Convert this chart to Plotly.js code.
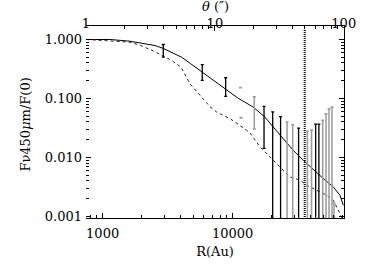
<!DOCTYPE html>
<html>
<head>
<meta charset="utf-8">
<script src="https://cdn.plot.ly/plotly-3.0.1.min.js"></script>
<style>html,body{margin:0;padding:0;background:#fff;}#chart{width:370px;height:273px;}</style>
</head>
<body>
<div id="chart"></div>
<script>
// Solid model profile
const solidR = [753, 1138, 1622, 1936, 2523, 2911, 4052, 4735, 5834, 7281, 8830, 10920, 14390, 17700, 20510, 24490, 29240, 34920, 41700, 49800, 59400, 66900, 70900];
const solidF = [1.0, 1.0, 0.935, 0.865, 0.79, 0.71, 0.50, 0.39, 0.28, 0.194, 0.14, 0.102, 0.0712, 0.0482, 0.0327, 0.0208, 0.0131, 0.0089, 0.0062, 0.00436, 0.00314, 0.00227, 0.00153];
// Dashed model profile
const dashR = [753, 1138, 1622, 1936, 2449, 3397, 4000, 4695, 5780, 6696, 7540, 9540, 12010, 13590, 16220, 19350, 23090, 27570, 32940, 37090, 44290, 52870, 59400, 63060, 68900, 71800];
const dashF = [1.0, 0.96, 0.90, 0.80, 0.64, 0.44, 0.34, 0.177, 0.105, 0.072, 0.0586, 0.0453, 0.032, 0.026, 0.0150, 0.0101, 0.00685, 0.00464, 0.0041, 0.00335, 0.00276, 0.00227, 0.00187, 0.00144, 0.00097, 0.0008];
// Black data points (error bars); lo = 0 means consistent with zero
const blackR = [2926, 5834, 8830, 17420, 20310, 23350, 32130, 43450, 46010];
const blackF = [0.66, 0.28, 0.15, 0.035, 0.022, 0.019, 0.012, 0.014, 0.014];
const blackHi = [0.822, 0.373, 0.224, 0.0732, 0.059, 0.049, 0.0313, 0.0367, 0.0367];
const blackLo = [0.501, 0.202, 0.108, 0.0142, 0, 0, 0, 0, 0];
// Gray data points (error bars)
const grayR = [11480, 11590, 14660, 26190, 28940, 37500, 40390, 49220, 52200, 55060, 58040, 60130];
const grayF = [0.152, 0.047, 0.057, 0.015, 0.013, 0.010, 0.011, 0.016, 0.021, 0.025, 0.027, 0.00128];
const grayHi = [0.153, 0.0473, 0.107, 0.0397, 0.0358, 0.0276, 0.029, 0.0424, 0.055, 0.0669, 0.0712, 0.00168];
const grayLo = [0.151, 0.0467, 0.0302, 0, 0, 0, 0, 0, 0, 0, 0, 0.00097];
// Vertical dotted marker
const markR = [35800, 35800];
const markF = [0.0009, 1.45];
// Tick labels
const yTickVals = [0.001, 0.01, 0.1, 1];
const yTickText = ['0.001', '0.010', '0.100', '1.000'];
const xTickVals = [1000, 10000];
const xTickText = ['1000', '10000'];
const thetaTickVals = [1, 10, 100];
const thetaTickText = ['1', '10', '100'];
const yTitle = 'Fν450<i>μ</i>m/F(0)';
const thetaTitle = '<i>θ</i> (<i>″</i>)';

const FONT = {family: 'DejaVu Serif', size: 13, color: '#000'};
const sub = (a, b) => a.map((v, i) => v - b[i]);

const traces = [
  {x: solidR, y: solidF, mode: 'lines', line: {color: '#000', width: 1}, hoverinfo: 'skip'},
  {x: dashR, y: dashF, mode: 'lines', line: {color: '#222', width: 1, dash: '3px,3px'}, hoverinfo: 'skip'},
  {x: grayR, y: grayF, mode: 'markers', marker: {size: 1, color: 'rgba(0,0,0,0)'},
   error_y: {type: 'data', symmetric: false, array: sub(grayHi, grayF), arrayminus: sub(grayF, grayLo),
             color: '#9a9a9a', thickness: 1.5, width: 1.5}, hoverinfo: 'skip'},
  {x: blackR, y: blackF, mode: 'markers', marker: {size: 1, color: 'rgba(0,0,0,0)'},
   error_y: {type: 'data', symmetric: false, array: sub(blackHi, blackF), arrayminus: sub(blackF, blackLo),
             color: '#000', thickness: 1.3, width: 1.5}, hoverinfo: 'skip'},
  {x: markR, y: markF, mode: 'lines', line: {color: '#000', width: 2, dash: '1px,1px'}, hoverinfo: 'skip'},
  {x: thetaTickVals, y: yTickVals.slice(0, 3), xaxis: 'x2', yaxis: 'y2', mode: 'markers',
   marker: {size: 1, color: 'rgba(0,0,0,0)'}, hoverinfo: 'skip'}
];

const minorT = {ticks: 'inside', ticklen: 3, tickcolor: '#000', dtick: 'D1', showgrid: false};
const layout = {
  width: 370, height: 273,
  margin: {l: 86, r: 26, t: 26, b: 55, pad: 0},
  paper_bgcolor: '#fff', plot_bgcolor: '#fff',
  showlegend: false,
  font: FONT,
  xaxis: {
    type: 'log', range: [2.872, 4.856],
    showline: true, linecolor: '#000', linewidth: 1,
    ticks: 'inside', ticklen: 5, tickcolor: '#000',
    tickmode: 'array', tickvals: xTickVals, ticktext: xTickText,
    ticklabelstandoff: 3,
    minor: minorT,
    showgrid: false, zeroline: false,
    tickfont: FONT,
    title: {text: 'R(Au)', font: FONT, standoff: 7}
  },
  xaxis2: {
    type: 'log', range: [0, 2.002], overlaying: 'x', side: 'top', anchor: 'y',
    showline: true, linecolor: '#000', linewidth: 1,
    ticks: 'inside', ticklen: 5, tickcolor: '#000',
    tickmode: 'array', tickvals: thetaTickVals, ticktext: thetaTickText,
    ticklabelstandoff: -8,
    minor: minorT,
    showgrid: false, zeroline: false,
    tickfont: FONT
  },
  yaxis: {
    type: 'log', range: [-3.03, 0.229],
    showline: false,
    ticks: 'inside', ticklen: 5, tickcolor: '#000',
    tickmode: 'array', tickvals: yTickVals, ticktext: yTickText,
    ticklabelstandoff: 3,
    minor: minorT,
    showgrid: false, zeroline: false,
    tickfont: FONT
  },
  yaxis2: {
    type: 'log', range: [-3.03, 0.229], overlaying: 'y', side: 'right', anchor: 'x',
    showline: true, linecolor: '#000', linewidth: 1,
    ticks: 'inside', ticklen: 5, tickcolor: '#000',
    tickmode: 'array', tickvals: yTickVals, showticklabels: false,
    minor: minorT,
    showgrid: false, zeroline: false
  },
  annotations: [
    {text: yTitle, xref: 'paper', yref: 'paper', x: -0.236, y: 0.487, xanchor: 'center', yanchor: 'middle',
     textangle: -90, showarrow: false, font: FONT},
    {text: thetaTitle, xref: 'paper', yref: 'paper', x: 0.5, y: 1.10, xanchor: 'center', yanchor: 'middle',
     showarrow: false, font: FONT}
  ]
};

Plotly.newPlot('chart', traces, layout, {staticPlot: true, displayModeBar: false});
</script>
</body>
</html>
